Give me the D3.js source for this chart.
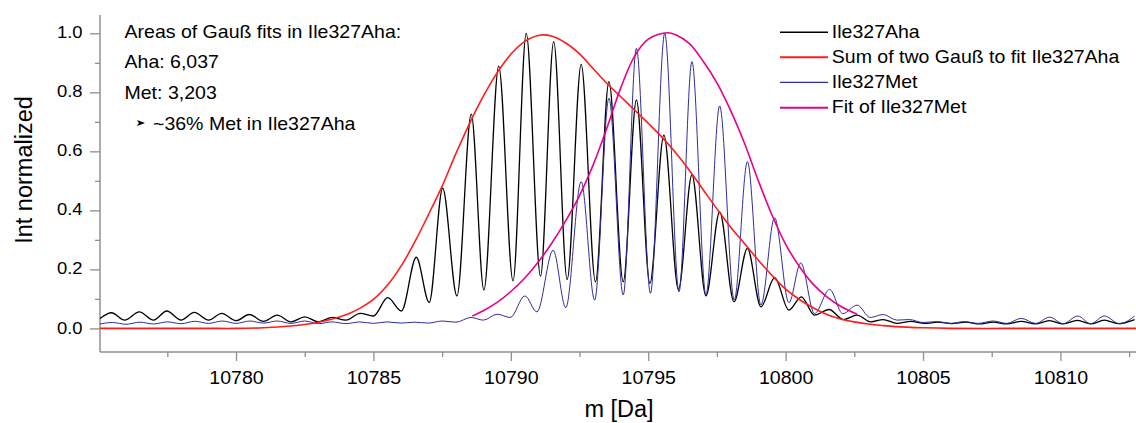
<!DOCTYPE html>
<html>
<head>
<meta charset="utf-8">
<script src="https://cdn.jsdelivr.net/npm/d3@7"></script>
<style>
  html, body { margin: 0; padding: 0; background: #ffffff; }
  svg { display: block; }
  text { font-family: "Liberation Sans", Arial, Helvetica, sans-serif; fill: #000; }
</style>
</head>
<body>
<svg id="chart" width="1136" height="423"></svg>
<script>
// ---------------- data ----------------
const ahaMass = [10775.0,10775.47,10775.95,10776.48,10777.0,10777.48,10778.0,10778.48,10779.0,10779.48,10780.0,10780.48,10781.0,10781.5,10782.0,10782.5,10783.0,10783.5,10784.0,10784.52,10785.0,10785.52,10786.02,10786.56,10787.03,10787.52,10788.04,10788.56,10789.02,10789.56,10790.08,10790.56,10791.08,10791.56,10792.05,10792.56,10793.08,10793.57,10794.09,10794.57,10795.06,10795.57,10796.1,10796.59,10797.1,10797.6,10798.12,10798.61,10799.1,10799.6,10800.12,10800.57,10801.05,10801.58,10802.1,10802.6,10803.1,10803.55,10804.05,10804.55,10805.05,10805.55,10806.05,10806.55,10807.05,10807.55,10808.05,10808.57,10809.08,10809.6,10810.1,10810.62,10811.1,10811.6,10812.1,10812.7];
const ahaInt  = [0.030,0.053,0.028,0.056,0.028,0.059,0.028,0.054,0.028,0.051,0.026,0.047,0.024,0.045,0.022,0.039,0.022,0.037,0.028,0.051,0.042,0.104,0.059,0.241,0.088,0.475,0.110,0.726,0.130,0.889,0.161,1.000,0.177,0.972,0.166,0.895,0.158,0.836,0.158,0.774,0.153,0.655,0.132,0.520,0.110,0.395,0.090,0.271,0.073,0.172,0.062,0.107,0.045,0.064,0.030,0.045,0.022,0.030,0.017,0.024,0.017,0.021,0.016,0.021,0.015,0.021,0.015,0.024,0.015,0.026,0.015,0.027,0.015,0.028,0.016,0.030];

const sumMass = [10775.0,10777.0,10779.0,10780.0,10781.0,10782.0,10782.5,10783.0,10783.5,10784.0,10784.5,10785.0,10785.5,10786.0,10786.5,10787.0,10787.5,10788.0,10788.5,10789.0,10789.5,10790.0,10790.5,10791.1,10791.5,10792.0,10792.5,10793.0,10793.5,10794.0,10794.5,10795.0,10795.5,10796.0,10796.5,10797.0,10797.5,10798.0,10798.5,10799.0,10799.5,10800.0,10800.5,10801.0,10801.5,10802.0,10802.5,10803.0,10803.5,10804.0,10805.0,10806.0,10808.0,10810.0,10812.75];
const sumInt  = [0.000,0.000,0.000,0.000,0.002,0.008,0.013,0.021,0.032,0.046,0.068,0.098,0.145,0.210,0.292,0.385,0.482,0.592,0.695,0.787,0.866,0.929,0.972,0.994,0.990,0.967,0.930,0.880,0.830,0.785,0.740,0.695,0.648,0.595,0.535,0.470,0.405,0.343,0.288,0.232,0.180,0.133,0.098,0.070,0.047,0.032,0.022,0.015,0.010,0.006,0.002,0.000,0.000,0.000,0.000];

const metMass = [10775.0,10775.5,10776.0,10776.5,10777.0,10777.5,10778.0,10778.5,10779.0,10779.5,10780.0,10780.5,10781.0,10781.5,10782.0,10782.5,10783.0,10783.5,10784.0,10784.5,10785.0,10785.5,10786.0,10786.5,10787.0,10787.5,10788.0,10788.55,10789.0,10789.5,10789.98,10790.51,10790.95,10791.54,10792.0,10792.56,10793.05,10793.57,10794.09,10794.57,10795.08,10795.6,10796.12,10796.59,10797.1,10797.6,10798.13,10798.61,10799.1,10799.6,10800.12,10800.55,10801.05,10801.6,10802.08,10802.6,10803.08,10803.55,10804.05,10804.5,10805.0,10805.5,10806.0,10806.5,10807.0,10807.55,10808.05,10808.57,10809.1,10809.6,10810.1,10810.63,10811.1,10811.6,10812.15,10812.7];
const metInt  = [0.014,0.020,0.014,0.021,0.015,0.022,0.016,0.024,0.017,0.025,0.017,0.025,0.018,0.025,0.017,0.025,0.016,0.022,0.016,0.022,0.017,0.022,0.018,0.021,0.018,0.025,0.021,0.037,0.028,0.048,0.037,0.110,0.056,0.265,0.070,0.497,0.096,0.780,0.113,0.949,0.119,1.000,0.124,0.904,0.113,0.754,0.096,0.565,0.079,0.375,0.087,0.222,0.050,0.132,0.050,0.079,0.037,0.047,0.028,0.030,0.020,0.023,0.017,0.023,0.017,0.025,0.017,0.034,0.017,0.038,0.016,0.042,0.016,0.042,0.016,0.042];

const fitMass = [10788.6,10789.0,10789.5,10790.0,10790.5,10791.0,10791.5,10792.0,10792.5,10793.0,10793.5,10794.0,10794.5,10795.0,10795.7,10796.0,10796.5,10797.0,10797.5,10798.0,10798.5,10799.0,10799.5,10800.0,10800.5,10801.0,10801.5,10802.0,10802.6];
const fitInt  = [0.042,0.060,0.088,0.125,0.170,0.225,0.290,0.365,0.450,0.555,0.680,0.815,0.922,0.980,1.002,0.995,0.965,0.905,0.832,0.738,0.628,0.502,0.385,0.285,0.210,0.150,0.107,0.075,0.048];

const xMajorTicks = [10780,10785,10790,10795,10800,10805,10810];
const xMinorTicks = [10777.5,10782.5,10787.5,10792.5,10797.5,10802.5,10807.5,10812.5];
const yMajorTicks = [0.0,0.2,0.4,0.6,0.8,1.0];
const yMinorTicks = [0.1,0.3,0.5,0.7,0.9];

const seriesNames = ["Ile327Aha","Sum of two Gauß to fit Ile327Aha","Ile327Met","Fit of Ile327Met"];
const annotationLines = ["Areas of Gauß fits in Ile327Aha:","Aha: 6,037","Met: 3,203","~36% Met in Ile327Aha"];
const xTitle = "m [Da]";
const yTitle = "Int normalized";

// ---------------- drawing ----------------
(function () {
const svg = d3.select("#chart");
const pLeft = 100, pRight = 1136, pTop = 15, pBottom = 352;

const x = d3.scaleLinear().domain([10775.05, 10812.75]).range([pLeft, pRight]);
const y = d3.scaleLinear().domain([-0.08, 1.062]).range([pBottom, pTop]);

const axisColor = "#8f8f8f";

svg.append("defs").append("clipPath").attr("id","plotclip")
  .append("rect").attr("x", pLeft).attr("y", pTop - 5).attr("width", pRight - pLeft).attr("height", pBottom - pTop + 5);

// axes
const gx = svg.append("g").attr("transform", `translate(0,${pBottom})`);
gx.call(d3.axisBottom(x).tickValues(xMajorTicks).tickSize(9).tickFormat(d3.format("d")));
gx.select(".domain").remove();
gx.selectAll(".tick line").attr("stroke", axisColor).attr("stroke-width", 1.3);
gx.selectAll(".tick text")
  .attr("y", 32).attr("dy", 0)
  .attr("transform", "scale(1.12,1)")
  .style("font-size", "17.5px")
  .style("font-family", "'Liberation Sans', Arial, sans-serif")
  .attr("fill", "#000");

const gxm = svg.append("g").attr("transform", `translate(0,${pBottom})`);
gxm.call(d3.axisBottom(x).tickValues(xMinorTicks).tickSize(5).tickFormat(""));
gxm.select(".domain").remove();
gxm.selectAll(".tick line").attr("stroke", axisColor).attr("stroke-width", 1.3);

const gy = svg.append("g").attr("transform", `translate(${pLeft},0)`);
gy.call(d3.axisLeft(y).tickValues(yMajorTicks).tickSize(10).tickFormat(d3.format(".1f")));
gy.select(".domain").remove();
gy.selectAll(".tick line").attr("stroke", axisColor).attr("stroke-width", 1.3);
gy.selectAll(".tick text")
  .attr("x", -17.5 / 1.15).attr("dy", 0).attr("y", 4.6)
  .attr("transform", "scale(1.15,1)")
  .style("font-size", "16px")
  .style("font-family", "'Liberation Sans', Arial, sans-serif")
  .attr("fill", "#000");

const gym = svg.append("g").attr("transform", `translate(${pLeft},0)`);
gym.call(d3.axisLeft(y).tickValues(yMinorTicks).tickSize(5).tickFormat(""));
gym.select(".domain").remove();
gym.selectAll(".tick line").attr("stroke", axisColor).attr("stroke-width", 1.3);

svg.append("line").attr("x1", pLeft).attr("x2", pLeft).attr("y1", pTop).attr("y2", pBottom)
  .attr("stroke", axisColor).attr("stroke-width", 1.5);
svg.append("line").attr("x1", pLeft).attr("x2", pRight).attr("y1", pBottom).attr("y2", pBottom)
  .attr("stroke", axisColor).attr("stroke-width", 1.5);

// axis titles
svg.append("text").attr("transform", `translate(31.5,170) rotate(-90)`)
  .attr("text-anchor", "middle").style("font-size", "23.5px").text(yTitle);
svg.append("text").attr("x", 619).attr("y", 417)
  .attr("text-anchor", "middle").style("font-size", "23.5px").text(xTitle);

// series
const spectrumLine = d3.line().x(d => x(d[0])).y(d => y(d[1])).curve(d3.curveMonotoneX);
const fitLine = d3.line().x(d => x(d[0])).y(d => y(d[1])).curve(d3.curveCatmullRom.alpha(0.5));
const zip = (a, b) => a.map((v, i) => [v, b[i]]);

const series = [
  { name: seriesNames[0], data: zip(ahaMass, ahaInt), color: "#000000", width: 1.3, gen: spectrumLine },
  { name: seriesNames[1], data: zip(sumMass, sumInt), color: "#ff1c1c", width: 1.6, gen: fitLine },
  { name: seriesNames[2], data: zip(metMass, metInt), color: "#2e2e9c", width: 1.0, gen: spectrumLine },
  { name: seriesNames[3], data: zip(fitMass, fitInt), color: "#e8008a", width: 1.6, gen: fitLine }
];
const drawOrder = [0, 2, 1, 3];
const plot = svg.append("g").attr("clip-path", "url(#plotclip)");
drawOrder.forEach(i => {
  const s = series[i];
  plot.append("path").datum(s.data)
    .attr("fill", "none").attr("stroke", s.color).attr("stroke-width", s.width)
    .attr("stroke-linejoin", "round").attr("d", s.gen);
});

// legend
const legendY = [32.3, 57.3, 82.3, 107.7];
series.forEach((s, i) => {
  svg.append("line").attr("x1", 780).attr("x2", 828)
    .attr("y1", legendY[i]).attr("y2", legendY[i])
    .attr("stroke", s.color).attr("stroke-width", s.width + 0.3);
  svg.append("text").attr("transform", `translate(831.8,${legendY[i] + 5.6}) scale(1.11,1)`)
    .style("font-size", "17.6px").text(s.name);
});

// annotation
const annY = [37.7, 68.3, 99.3, 129.5];
annotationLines.forEach((t, i) => {
  const ax = i === 3 ? 153 : 124.5;
  svg.append("text").attr("transform", `translate(${ax},${annY[i]}) scale(1.11,1)`)
    .style("font-size", "17.6px").text(t);
});
svg.append("text").attr("transform", `translate(135.5,126) scale(1.0,0.8)`)
  .style("font-family", "'DejaVu Sans', sans-serif").style("font-size", "12px").text("➤");
})();
</script>
</body>
</html>
